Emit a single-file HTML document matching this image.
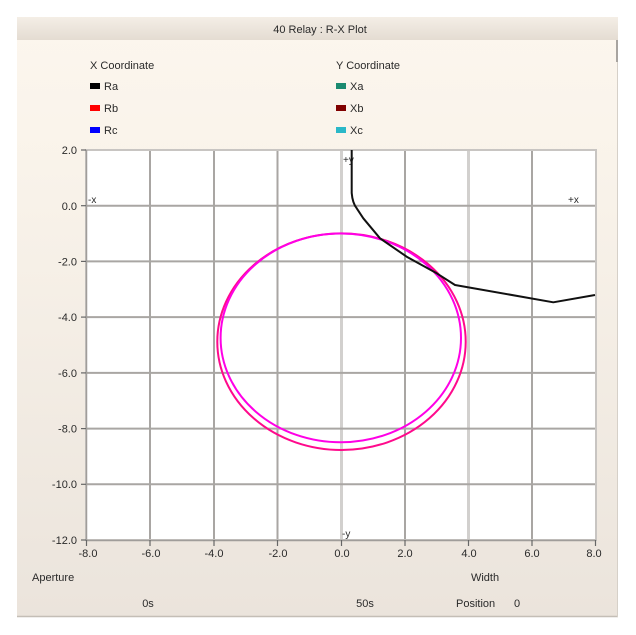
<!DOCTYPE html>
<html><head><meta charset="utf-8"><style>
html,body{margin:0;padding:0;background:#fff;}
svg{display:block;}
text{font-family:"Liberation Sans",sans-serif;font-size:11px;fill:#2a2a2a;}
</style></head><body>
<svg width="636" height="635" viewBox="0 0 636 635" xmlns="http://www.w3.org/2000/svg">
<defs>
<linearGradient id="bg" x1="0" y1="0" x2="0" y2="1">
<stop offset="0" stop-color="#fcf6ee"/>
<stop offset="0.25" stop-color="#f9f3ea"/>
<stop offset="1" stop-color="#ebe4dc"/>
</linearGradient>
<linearGradient id="tb" x1="0" y1="0" x2="0" y2="1">
<stop offset="0" stop-color="#f4eee6"/>
<stop offset="1" stop-color="#e4dcd2"/>
</linearGradient>
</defs>
<rect x="0" y="0" width="636" height="635" fill="#fff"/>
<rect x="17" y="17" width="601" height="600" fill="url(#bg)"/>
<rect x="17" y="17" width="601" height="23" fill="url(#tb)"/>
<line x1="17" y1="616.5" x2="618" y2="616.5" stroke="#c4beb6" stroke-width="1.5"/>
<line x1="617.5" y1="40" x2="617.5" y2="617" stroke="#d6d0c8" stroke-width="1"/>
<rect x="616" y="40" width="2" height="22" fill="#a8a4a0"/>
<text x="320" y="33" text-anchor="middle">40 Relay : R-X Plot</text>

<!-- legend -->
<text x="90" y="69">X Coordinate</text>
<rect x="90" y="83" width="10" height="6" fill="#000"/><text x="104" y="90">Ra</text>
<rect x="90" y="105" width="10" height="6" fill="#ff0000"/><text x="104" y="112">Rb</text>
<rect x="90" y="127" width="10" height="6" fill="#0000ff"/><text x="104" y="134">Rc</text>
<text x="336" y="69">Y Coordinate</text>
<rect x="336" y="83" width="10" height="6" fill="#1a8a70"/><text x="350" y="90">Xa</text>
<rect x="336" y="105" width="10" height="6" fill="#800000"/><text x="350" y="112">Xb</text>
<rect x="336" y="127" width="10" height="6" fill="#2ab8c8"/><text x="350" y="134">Xc</text>

<!-- plot area -->
<rect x="86" y="150" width="510" height="390" fill="#fff"/>
<g stroke="#a9a6a3" stroke-width="2">
<line x1="150" y1="150" x2="150" y2="540"/>
<line x1="214" y1="150" x2="214" y2="540"/>
<line x1="277.5" y1="150" x2="277.5" y2="540"/>
<line x1="405" y1="150" x2="405" y2="540"/>
<line x1="532" y1="150" x2="532" y2="540"/>
</g>
<g stroke="#d2d0ce" stroke-width="3">
<line x1="341.5" y1="150" x2="341.5" y2="540"/>
<line x1="468.5" y1="150" x2="468.5" y2="540"/>
</g>
<g stroke="#a9a6a3" stroke-width="2">
<line x1="86" y1="205.7" x2="596" y2="205.7"/>
<line x1="86" y1="261.4" x2="596" y2="261.4"/>
<line x1="86" y1="317.1" x2="596" y2="317.1"/>
<line x1="86" y1="372.9" x2="596" y2="372.9"/>
<line x1="86" y1="428.6" x2="596" y2="428.6"/>
<line x1="86" y1="484.3" x2="596" y2="484.3"/>
</g>
<rect x="86" y="150" width="510" height="390" fill="none" stroke="#c8c5c2" stroke-width="2"/>
<line x1="86.5" y1="150" x2="86.5" y2="541" stroke="#a09d9a" stroke-width="1.5"/>
<line x1="86" y1="540.5" x2="596" y2="540.5" stroke="#a09d9a" stroke-width="1.5"/>

<!-- ticks -->
<g stroke="#666" stroke-width="1.2">
<line x1="81" y1="150" x2="86" y2="150"/>
<line x1="81" y1="205.7" x2="86" y2="205.7"/>
<line x1="81" y1="261.4" x2="86" y2="261.4"/>
<line x1="81" y1="317.1" x2="86" y2="317.1"/>
<line x1="81" y1="372.9" x2="86" y2="372.9"/>
<line x1="81" y1="428.6" x2="86" y2="428.6"/>
<line x1="81" y1="484.3" x2="86" y2="484.3"/>
<line x1="81" y1="540" x2="86" y2="540"/>
<line x1="86.5" y1="540" x2="86.5" y2="546"/>
<line x1="150" y1="540" x2="150" y2="546"/>
<line x1="214" y1="540" x2="214" y2="546"/>
<line x1="277.5" y1="540" x2="277.5" y2="546"/>
<line x1="341.5" y1="540" x2="341.5" y2="546"/>
<line x1="405" y1="540" x2="405" y2="546"/>
<line x1="468.5" y1="540" x2="468.5" y2="546"/>
<line x1="532" y1="540" x2="532" y2="546"/>
<line x1="595.5" y1="540" x2="595.5" y2="546"/>
</g>
<g text-anchor="end">
<text x="77" y="154">2.0</text>
<text x="77" y="210">0.0</text>
<text x="77" y="265.5">-2.0</text>
<text x="77" y="321">-4.0</text>
<text x="77" y="377">-6.0</text>
<text x="77" y="432.5">-8.0</text>
<text x="77" y="488">-10.0</text>
<text x="77" y="544">-12.0</text>
</g>
<g text-anchor="middle">
<text x="88" y="557">-8.0</text>
<text x="151" y="557">-6.0</text>
<text x="214" y="557">-4.0</text>
<text x="278" y="557">-2.0</text>
<text x="342" y="557">0.0</text>
<text x="405" y="557">2.0</text>
<text x="469" y="557">4.0</text>
<text x="532" y="557">6.0</text>
<text x="594" y="557">8.0</text>
</g>

<!-- axis markers -->
<text x="88" y="203" style="font-size:10px">-x</text>
<text x="568" y="203" style="font-size:10px">+x</text>
<text x="343" y="163" style="font-size:10px">+y</text>
<text x="342" y="537" style="font-size:10px">-y</text>

<!-- circles -->
<ellipse cx="341.5" cy="341.7" rx="124.2" ry="108.3" fill="none" stroke="#ff0a8c" stroke-width="2"/>
<ellipse cx="340.8" cy="337.9" rx="120.2" ry="104.4" fill="none" stroke="#ff00e6" stroke-width="2"/>

<!-- Ra curve -->
<path d="M351.7,150 L351.7,193 Q352.5,203 356.7,208.3 L363.3,218.3 L380,238.3 L406.7,256.7 L436.7,273.3 L455,285 L553.3,302.3 L595,295" fill="none" stroke="#111" stroke-width="2" stroke-linejoin="round"/>

<!-- bottom controls -->
<text x="32" y="581">Aperture</text>
<text x="485" y="581" text-anchor="middle">Width</text>
<text x="148" y="607" text-anchor="middle">0s</text>
<text x="365" y="607" text-anchor="middle">50s</text>
<text x="456" y="607">Position</text>
<text x="514" y="607">0</text>
</svg>
</body></html>
